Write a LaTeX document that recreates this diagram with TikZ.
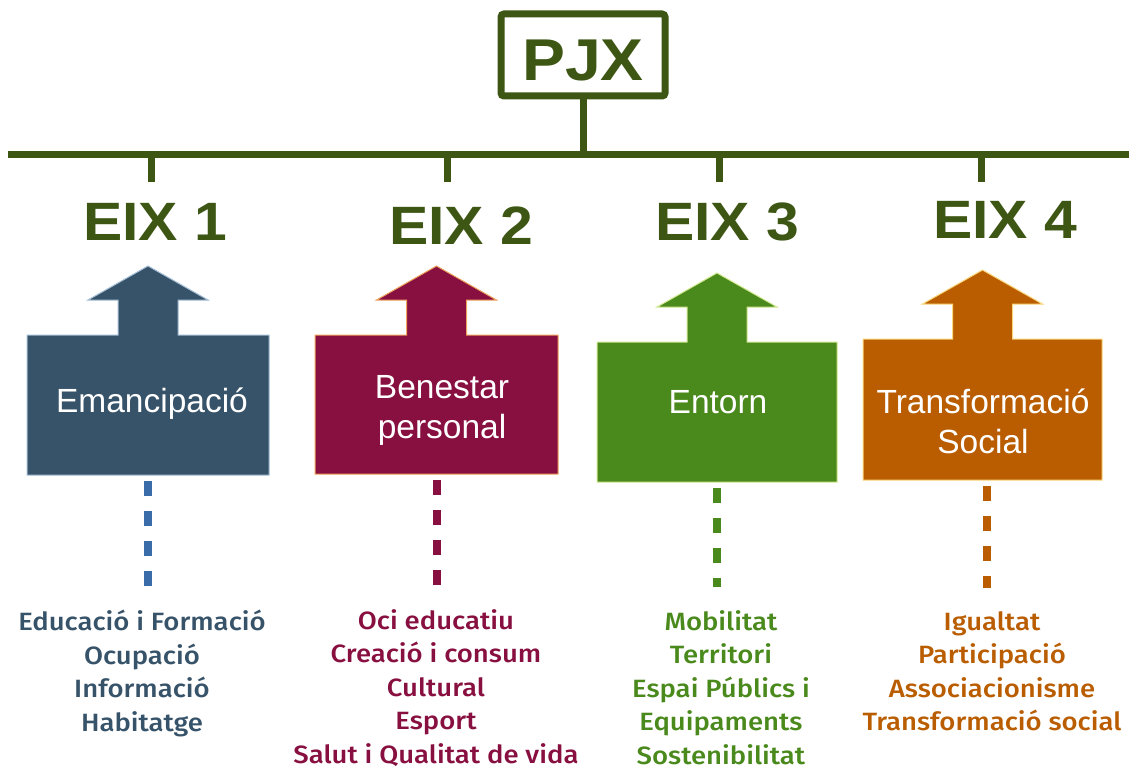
\documentclass[tikz,border=0pt]{standalone}
\usepackage{fontspec}
\setmainfont{Liberation Sans}
\newfontfamily\headfont{Liberation Sans}[FakeStretch=1.09]
\newfontfamily\listfont{Fira Sans}[UprightFont=* Medium, FakeStretch=1.1]
\usepackage{tikz}
\usetikzlibrary{calc}

\definecolor{pjxgreen}{RGB}{61,86,20}
\definecolor{emblue}{RGB}{55,83,105}
\definecolor{emline}{RGB}{165,190,215}
\definecolor{dashblue}{RGB}{58,108,170}
\definecolor{benred}{RGB}{136,16,64}
\definecolor{benline}{RGB}{240,165,95}
\definecolor{entgreen}{RGB}{74,137,28}
\definecolor{entline}{RGB}{210,232,145}
\definecolor{traorange}{RGB}{185,93,0}
\definecolor{traline}{RGB}{250,215,125}

\newcommand{\EixArrow}[3]{
	\def\lbox{#1}
	\def\lfill{#2}
	\def\ldraw{#3}
	\filldraw[draw=\ldraw, fill=\lfill, line width=1pt] (\lbox.south west) -- (\lbox.north west) -- ($(\lbox.north)+(-30,0)$) -- ++(0,-35) -- ++(-30,0) -- ($(\lbox.north)+(0,-69)$) -- ($(\lbox.north)+(60,-35)$) -- ++(-30,0) -- ($(\lbox.north)+(30,0)$) -- (\lbox.north east) -- (\lbox.south east) -- cycle;
}

\begin{document}
\begin{tikzpicture}[x=1pt, y=-1pt,
		bus/.style={draw=pjxgreen, line width=7pt},
		pjxbox/.style={draw=pjxgreen, line width=7pt, rounded corners=3pt, minimum width=164pt, minimum height=82pt, inner sep=0pt, text height=51pt, text depth=0pt, text=pjxgreen, font=\headfont\bfseries\fontsize{59}{59}\selectfont},
		eixlabel/.style={text=pjxgreen, anchor=base, inner sep=0pt, font=\headfont\bfseries\fontsize{54}{54}\selectfont},
		eixbox/.style={inner sep=0pt, outer sep=0pt},
		eixtext/.style={text=white, align=center, anchor=base, inner sep=0pt, font=\fontsize{33.5}{40}\selectfont},
		eixdash/.style={line width=8pt, dash pattern=on 15pt off 15pt, shorten <=6pt, shorten >=23pt},
		listtext/.style={anchor=north, align=center, inner sep=0pt, font=\listfont\fontsize{25}{33.5}\selectfont}
	]
	\useasboundingbox (0,0) rectangle (1129,767);

	\node[pjxbox] (pjx) at (583,55) {PJX};

	\coordinate (busL) at (8,155);
	\coordinate (busR) at (1129,155);
	\draw[bus] (busL) -- (busR);
	\draw[bus] (pjx.south) -- (pjx.south |- busL);
	\foreach \i/\x in {1/151, 2/447, 3/719, 4/981}{
		\coordinate (tick\i) at (\x,182);
		\draw[bus] (tick\i |- busL) -- (tick\i);
	}

	\node[eixlabel] (eix1) at (155,241) {EIX 1};
	\node[eixlabel] (eix2) at (461,244) {EIX 2};
	\node[eixlabel] (eix3) at (727,241) {EIX 3};
	\node[eixlabel] (eix4) at (1005,239) {EIX 4};

	\node[eixbox, minimum width=242pt, minimum height=140pt] (box1) at (148,405) {};
	\node[eixbox, minimum width=243pt, minimum height=139pt] (box2) at (436.5,404.5) {};
	\node[eixbox, minimum width=240pt, minimum height=140pt] (box3) at (717,412) {};
	\node[eixbox, minimum width=239pt, minimum height=141pt] (box4) at (982.5,409.5) {};

	\EixArrow{box1}{emblue}{emline}
	\EixArrow{box2}{benred}{benline}
	\EixArrow{box3}{entgreen}{entline}
	\EixArrow{box4}{traorange}{traline}

	\node[eixtext] (lab1) at (152,412) {Emancipació};
	\node[eixtext] (lab2) at (442,438) {Benestar\\personal};
	\node[eixtext] (lab3) at (718,413) {Entorn};
	\node[eixtext] (lab4) at (983,453) {Transformació\\Social};

	\node[listtext, text=emblue] (list1) at (142,610) {Educació i Formació\\Ocupació\\Informació\\Habitatge};
	\node[listtext, text=benred] (list2) at (436,609) {Oci educatiu\\Creació i consum\\Cultural\\Esport\\Salut i Qualitat de vida};
	\node[listtext, text=entgreen] (list3) at (721,610) {Mobilitat\\Territori\\Espai Públics i\\Equipaments\\Sostenibilitat};
	\node[listtext, text=traorange] (list4) at (992,611) {Igualtat\\Participació\\Associacionisme\\Transformació social};

	\draw[eixdash, draw=dashblue] (box1.south) -- (box1.south |- list1.north);
	\draw[eixdash, draw=benred] (box2.south) -- (box2.south |- list2.north);
	\draw[eixdash, draw=entgreen] (box3.south) -- (box3.south |- list3.north);
	\draw[eixdash, draw=traorange] ([xshift=4pt]box4.south) -- ([xshift=4pt]box4.south |- list4.north);

\end{tikzpicture}
\end{document}
